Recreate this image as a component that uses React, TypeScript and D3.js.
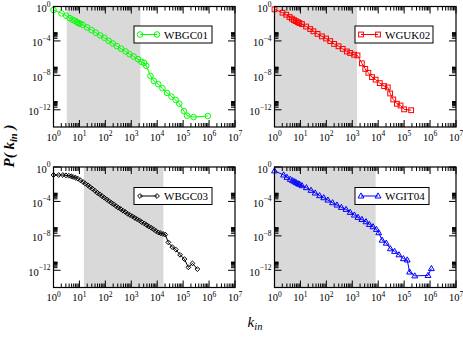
import React from 'react';
import * as d3 from 'd3';

// ---- tick definitions ----
const xTickExps = [0, 1, 2, 3, 4, 5, 6, 7];
const yTickExps = [0, -4, -8, -12];
const yMinorExps = [-4, -8, -12];

// ---- data (log10 values) ----
const wbgc01LogK = [0.0, 0.31, 0.49, 0.62, 0.73, 0.82, 0.9, 0.96, 1.02, 1.12, 1.29, 1.47, 1.63, 1.8, 1.96, 2.13, 2.28, 2.44, 2.61, 2.78, 2.93, 3.09, 3.26, 3.39, 3.49, 3.58, 3.74, 3.87, 4.04, 4.2, 4.38, 4.55, 4.71, 4.85, 5.03, 5.15, 5.4, 5.95];
const wbgc01LogP = [-0.41, -0.8, -1.07, -1.34, -1.53, -1.65, -1.81, -1.92, -2.0, -2.12, -2.43, -2.74, -3.05, -3.36, -3.63, -3.98, -4.29, -4.6, -4.91, -5.22, -5.54, -5.81, -6.12, -6.43, -6.55, -6.9, -8.06, -8.64, -9.03, -9.5, -10.04, -10.47, -10.86, -11.29, -12.15, -12.68, -12.85, -12.72];

const wguk02LogK = [0.0, 0.31, 0.45, 0.58, 0.67, 0.75, 0.82, 0.9, 0.96, 1.06, 1.22, 1.38, 1.5, 1.66, 1.83, 1.99, 2.15, 2.3, 2.47, 2.63, 2.79, 2.92, 3.07, 3.2, 3.37, 3.5, 3.62, 3.76, 3.9, 4.06, 4.23, 4.37, 4.46, 4.58, 4.72, 4.86, 5.0, 5.27];
const wguk02LogP = [-0.33, -0.72, -0.95, -1.22, -1.41, -1.58, -1.7, -1.82, -1.92, -2.05, -2.33, -2.62, -2.88, -3.18, -3.47, -3.72, -4.02, -4.35, -4.62, -4.92, -5.22, -5.4, -5.6, -5.68, -6.6, -7.25, -7.7, -8.2, -8.5, -8.9, -9.25, -9.4, -10.1, -10.8, -11.3, -11.5, -11.95, -12.05];

const wbgc03LogK = [0, 0.2, 0.36, 0.48, 0.59, 0.68, 0.76, 0.85, 0.94, 1.04, 1.14, 1.23, 1.33, 1.41, 1.5, 1.6, 1.69, 1.78, 1.87, 1.96, 2.05, 2.14, 2.23, 2.32, 2.41, 2.5, 2.59, 2.68, 2.77, 2.86, 2.95, 3.04, 3.13, 3.22, 3.31, 3.4, 3.5, 3.59, 3.67, 3.77, 3.86, 3.95, 4.04, 4.13, 4.22, 4.31, 4.43, 4.58, 4.72, 4.88, 5.05, 5.2, 5.36, 5.55];
const wbgc03LogP = [-0.93, -0.93, -0.93, -0.97, -1.01, -1.08, -1.16, -1.24, -1.36, -1.55, -1.74, -1.94, -2.13, -2.33, -2.52, -2.76, -2.99, -3.17, -3.37, -3.57, -3.76, -3.95, -4.15, -4.34, -4.53, -4.73, -4.88, -5.08, -5.23, -5.43, -5.58, -5.73, -5.9, -6.05, -6.2, -6.4, -6.55, -6.74, -6.9, -7.06, -7.24, -7.44, -7.6, -7.7, -7.78, -7.85, -8.76, -9.3, -9.6, -10.2, -10.7, -11.66, -11.2, -11.86];

const wgit04LogK = [0, 0.35, 0.48, 0.61, 0.7, 0.78, 0.84, 0.91, 0.97, 1.06, 1.23, 1.41, 1.57, 1.74, 1.9, 2.06, 2.24, 2.41, 2.58, 2.76, 2.92, 3.08, 3.22, 3.37, 3.53, 3.66, 3.8, 3.93, 4.02, 4.15, 4.31, 4.47, 4.63, 4.8, 4.97, 5.12, 5.21, 5.41, 5.92, 6.05];
const wgit04LogP = [-0.45, -0.93, -1.2, -1.43, -1.59, -1.71, -1.82, -1.94, -2.01, -2.17, -2.4, -2.71, -3.02, -3.33, -3.57, -3.84, -4.15, -4.42, -4.69, -4.92, -5.27, -5.58, -5.85, -6.09, -6.36, -6.67, -6.94, -7.25, -7.64, -8.5, -8.85, -9.5, -9.8, -10.2, -10.65, -10.8, -12.2, -12.65, -12.6, -11.8];

// shaded scaling ranges (log10 k)
const shadeLogK = [
  [0.51, 3.35],
  [0.0, 3.18],
  [1.17, 4.24],
  [0.0, 3.9],
];

const seriesNames = ['WBGC01', 'WGUK02', 'WBGC03', 'WGIT04'];
const seriesColors = ['#00ff00', '#ff0000', '#000000', '#0000ff'];
const seriesMarkers = ['circle', 'square', 'diamond', 'triangle'];
const seriesLogK = [wbgc01LogK, wguk02LogK, wbgc03LogK, wgit04LogK];
const seriesLogP = [wbgc01LogP, wguk02LogP, wbgc03LogP, wgit04LogP];

const FONT = '"Liberation Serif", "Times New Roman", Times, serif';
const panelLeft = [53.5, 274.5];
const panelTop = [6.5, 167];
const PW = 181.5;
const PH = 120.5;

function Marker({ type, cx, cy, color }: { type: string; cx: number; cy: number; color: string }) {
  const common = { fill: 'none', stroke: color, strokeWidth: 1 };
  if (type === 'circle') return <circle cx={cx} cy={cy} r={2.8} {...common} />;
  if (type === 'square') return <rect x={cx - 2.4} y={cy - 2.4} width={4.8} height={4.8} {...common} />;
  if (type === 'diamond') {
    const s = 2.4;
    return <path d={`M${cx},${cy - s}L${cx + s},${cy}L${cx},${cy + s}L${cx - s},${cy}Z`} {...common} />;
  }
  const s = 3.1;
  return <path d={`M${cx},${cy - s}L${cx + s * 0.95},${cy + s * 0.65}L${cx - s * 0.95},${cy + s * 0.65}Z`} {...common} />;
}

function Panel({ idx }: { idx: number }) {
  const col = idx % 2;
  const row = Math.floor(idx / 2);
  const x0 = panelLeft[col];
  const y0 = panelTop[row];
  const x = d3.scaleLog().domain([1, 1e7]).range([x0, x0 + PW]);
  const y = d3.scaleLog().domain([1e-14, 1]).range([y0 + PH, y0]);
  const color = seriesColors[idx];
  const marker = seriesMarkers[idx];
  const pts = seriesLogK[idx].map((lk, i) => [Math.pow(10, lk), Math.pow(10, seriesLogP[idx][i])] as [number, number]);
  const line = d3.line<[number, number]>().x((d) => x(d[0])).y((d) => y(d[1]));
  const sh = shadeLogK[idx];
  const sx0 = x(Math.pow(10, sh[0]));
  const sx1 = x(Math.pow(10, sh[1]));

  const xMajor = xTickExps.map((e) => Math.pow(10, e));
  const xMinor: number[] = [];
  for (let e = 0; e < 7; e++) for (let m = 2; m <= 9; m++) xMinor.push(m * Math.pow(10, e));
  const yMinor: number[] = [];
  yMinorExps.forEach((e) => {
    for (let m = 2; m <= 9; m++) yMinor.push(m * Math.pow(10, e));
  });
  const MAJ = 7;
  const MIN = 4;
  const bottom = y0 + PH;
  const right = x0 + PW;

  // legend geometry
  const lgX = col === 0 ? 134 : 355;
  const lgW = col === 0 ? 78 : idx === 1 ? 78 : 74;
  const lgY = row === 0 ? 26 : 187.5;
  const lgH = 17;
  const my = lgY + lgH / 2;

  return (
    <g>
      <rect x={sx0} y={y0} width={sx1 - sx0} height={PH} fill="#d9d9d9" />
      <path d={line(pts) || ''} fill="none" stroke={color} strokeWidth={1} />
      {pts.map((d, i) => (
        <Marker key={i} type={marker} cx={x(d[0])} cy={y(d[1])} color={color} />
      ))}
      {/* ticks */}
      <g stroke="#000" strokeWidth={1}>
        {xMajor.map((v, i) => (
          <g key={'xm' + i}>
            <line x1={x(v)} x2={x(v)} y1={bottom} y2={bottom - MAJ} />
            <line x1={x(v)} x2={x(v)} y1={y0} y2={y0 + MAJ} />
          </g>
        ))}
        {xMinor.map((v, i) => (
          <g key={'xn' + i}>
            <line x1={x(v)} x2={x(v)} y1={bottom} y2={bottom - MIN} />
            <line x1={x(v)} x2={x(v)} y1={y0} y2={y0 + MIN} />
          </g>
        ))}
        {yTickExps.map((e, i) => {
          const yy = y(Math.pow(10, e));
          return (
            <g key={'ym' + i}>
              <line x1={x0} x2={x0 + MAJ} y1={yy} y2={yy} />
              <line x1={right} x2={right - MAJ} y1={yy} y2={yy} />
            </g>
          );
        })}
        {yMinor.map((v, i) => (
          <g key={'yn' + i}>
            <line x1={x0} x2={x0 + MIN} y1={y(v)} y2={y(v)} />
            <line x1={right} x2={right - MIN} y1={y(v)} y2={y(v)} />
          </g>
        ))}
      </g>
      <rect x={x0} y={y0} width={PW} height={PH} fill="none" stroke="#000" strokeWidth={1.2} />
      {/* tick labels */}
      <g fontFamily={FONT} fill="#000">
        {xTickExps.map((e) => (
          <text key={'xl' + e} x={x(Math.pow(10, e))} y={bottom + 13.5} textAnchor="middle" fontSize={10.5}>
            10<tspan dy={-4.5} fontSize={7.5}>{e}</tspan>
          </text>
        ))}
        {yTickExps.map((e) => (
          <text key={'yl' + e} x={x0 - 3} y={y(Math.pow(10, e)) + 5.5} textAnchor="end" fontSize={10.5}>
            10<tspan dy={-5.5} fontSize={7.5}>{e < 0 ? '\u2212' + Math.abs(e) : String(e)}</tspan>
          </text>
        ))}
      </g>
      {/* legend */}
      <rect x={lgX} y={lgY} width={lgW} height={lgH} fill="#fff" stroke="#000" strokeWidth={1} />
      <line x1={lgX + 6} x2={lgX + 23} y1={my} y2={my} stroke={color} strokeWidth={1} />
      <Marker type={marker} cx={lgX + 6} cy={my} color={color} />
      <Marker type={marker} cx={lgX + 23} cy={my} color={color} />
      <text x={lgX + 30} y={my + 4} fontFamily={FONT} fontSize={11} fill="#000">
        {seriesNames[idx]}
      </text>
    </g>
  );
}

export default function App() {
  return (
    <svg width={463} height={338} style={{ display: 'block', position: 'absolute', left: 0, top: 0, background: '#fff' }}>
      <rect width={463} height={338} fill="#fff" />
      {[0, 1, 2, 3].map((i) => (
        <Panel key={i} idx={i} />
      ))}
      <text transform="translate(14,146) rotate(-90)" textAnchor="middle" fontFamily={FONT} fontStyle="italic" fontWeight="bold" fontSize={15} fill="#000">
        P( k<tspan dy={3} fontSize={10.5}>in</tspan><tspan dy={-3}> )</tspan>
      </text>
      <text x={255} y={327} textAnchor="middle" fontFamily={FONT} fontStyle="italic" fontSize={15} fill="#000">
        k<tspan dy={3} fontSize={10.5}>in</tspan>
      </text>
    </svg>
  );
}
